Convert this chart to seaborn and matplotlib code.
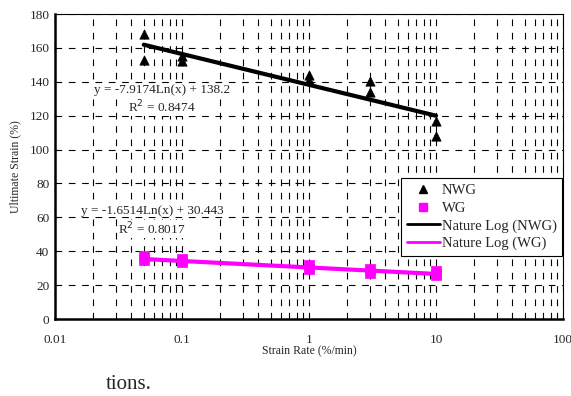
import matplotlib
matplotlib.use("Agg")
import matplotlib.pyplot as plt
import seaborn as sns
import pandas as pd
from matplotlib.ticker import LogLocator, FixedLocator, NullFormatter
from matplotlib.lines import Line2D

# Data
nwg_rate = [0.05, 0.05, 0.1, 0.1, 1, 1, 3, 3, 10, 10]
nwg_strain = [168, 153, 155, 152, 144, 141, 140.5, 134, 117, 108]
wg_rate = [0.05, 0.05, 0.1, 0.1, 1, 1, 3, 3, 10, 10]
wg_strain = [37, 35, 35.5, 33.5, 32, 29.5, 29.5, 27, 28.5, 26]
fit_rate = [0.05, 10]
nwg_fit = [161.9, 120.0]
wg_fit = [35.4, 26.6]
x_ticks = [0.01, 0.1, 1, 10, 100]
x_tick_labels = ["0.01", "0.1", "1", "10", "100"]
y_ticks = [0, 20, 40, 60, 80, 100, 120, 140, 160, 180]

sns.set_style("white")
plt.rcParams['font.family'] = ['Liberation Serif', 'DejaVu Serif']

fig = plt.figure(figsize=(5.71, 3.96), dpi=100)
ax = fig.add_axes([0.0963, 0.1944, 0.8897, 0.7702])

ax.set_xscale("log")
ax.set_xlim(0.01, 100)
ax.set_ylim(0, 180)

# grid
ax.xaxis.set_major_locator(FixedLocator(x_ticks))
ax.xaxis.set_minor_locator(LogLocator(base=10, subs=range(2, 10)))
ax.xaxis.set_minor_formatter(NullFormatter())
ax.set_yticks(y_ticks)
ax.grid(which="major", axis="both", color="black", linestyle=(0, (6, 6)), linewidth=0.8)
ax.grid(which="minor", axis="x", color="black", linestyle=(0, (6, 6)), linewidth=0.8)

df_fit = pd.DataFrame({"rate": fit_rate + fit_rate,
                       "strain": nwg_fit + wg_fit,
                       "series": ["NWG"] * 2 + ["WG"] * 2})
sns.lineplot(data=df_fit[df_fit.series == "NWG"], x="rate", y="strain", color="black",
             linewidth=3, ax=ax, legend=False)
sns.lineplot(data=df_fit[df_fit.series == "WG"], x="rate", y="strain", color="#FF00FF",
             linewidth=3, ax=ax, legend=False)
sns.scatterplot(x=nwg_rate, y=nwg_strain, marker="^", color="black", s=45,
                edgecolor="black", linewidth=0.5, ax=ax, zorder=5)
sns.scatterplot(x=wg_rate, y=wg_strain, marker="s", color="#FF00FF", s=55,
                edgecolor="#FF00FF", linewidth=0.5, ax=ax, zorder=5)

ax.set_xticks(x_ticks)
ax.set_xticklabels(x_tick_labels)
ax.tick_params(axis="both", which="both", length=0, labelsize=9.5)
ax.tick_params(axis="x", pad=11)
ax.tick_params(axis="y", pad=4)

for side in ["top", "right"]:
    ax.spines[side].set_linewidth(0.8)
    ax.spines[side].set_color("black")
for side in ["left", "bottom"]:
    ax.spines[side].set_linewidth(1.8)
    ax.spines[side].set_color("black")

ax.set_xlabel("Strain Rate (%/min)", fontsize=8.5, labelpad=-1)
ax.set_ylabel("Ultimate Strain (%)", fontsize=8.5, labelpad=6)

bb = dict(facecolor="white", edgecolor="none", pad=0.5)
ax.text(0.0697, 135, "y = -7.9174Ln(x) + 138.2", ha="center", va="center", fontsize=9.5, bbox=bb)
ax.text(0.0697, 125, "R$^2$ = 0.8474", ha="center", va="center", fontsize=9.5, bbox=bb)
ax.text(0.058, 64, "y = -1.6514Ln(x) + 30.443", ha="center", va="center", fontsize=9.5, bbox=bb)
ax.text(0.058, 53, "R$^2$ = 0.8017", ha="center", va="center", fontsize=9.5, bbox=bb)

handles = [
    Line2D([], [], marker="^", color="black", linestyle="none", markersize=6),
    Line2D([], [], marker="s", color="#FF00FF", linestyle="none", markersize=6),
    Line2D([], [], color="black", linewidth=2),
    Line2D([], [], color="#FF00FF", linewidth=2),
]
labels = ["NWG", "WG", "Nature Log (NWG)", "Nature Log (WG)"]
leg = ax.legend(handles, labels, loc="upper right", bbox_to_anchor=(0.999, 0.462),
                fontsize=10.5, frameon=True, fancybox=False, framealpha=1,
                edgecolor="black", borderpad=0.4, labelspacing=0.3,
                handlelength=2.3, handletextpad=0.1, borderaxespad=0)
leg.get_frame().set_linewidth(0.8)

fig.text(0.186, 0.028, "tions.", fontsize=15, ha="left", va="center")

fig.savefig("out.png", dpi=100)
